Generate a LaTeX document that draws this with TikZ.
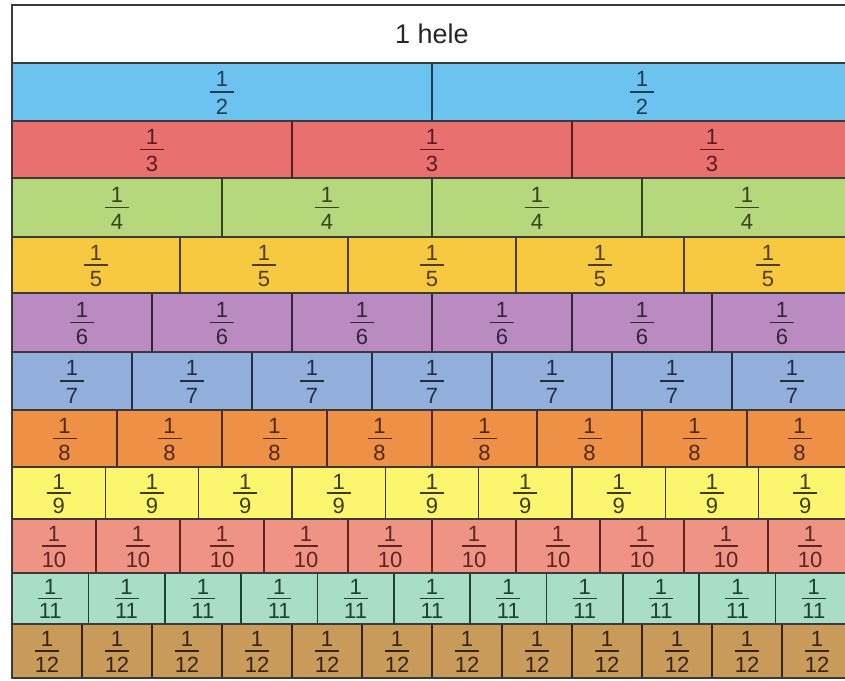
\documentclass[tikz,border=0pt]{standalone}
\usepackage{fontspec}
\setmainfont{Liberation Sans}
\definecolor{c2}{HTML}{6DC3EF}\definecolor{d2}{HTML}{1F3D52}
\definecolor{c3}{HTML}{E8706F}\definecolor{d3}{HTML}{5E1A1E}
\definecolor{c4}{HTML}{B6D77B}\definecolor{d4}{HTML}{34451A}
\definecolor{c5}{HTML}{F7C940}\definecolor{d5}{HTML}{533C12}
\definecolor{c6}{HTML}{BA8BC0}\definecolor{d6}{HTML}{35223D}
\definecolor{c7}{HTML}{92AEDB}\definecolor{d7}{HTML}{212E47}
\definecolor{c8}{HTML}{EE9045}\definecolor{d8}{HTML}{502912}
\definecolor{c9}{HTML}{FBF66E}\definecolor{d9}{HTML}{433912}
\definecolor{c10}{HTML}{EF9484}\definecolor{d10}{HTML}{60251E}
\definecolor{c11}{HTML}{AADDC6}\definecolor{d11}{HTML}{1B422F}
\definecolor{c12}{HTML}{C89B5A}\definecolor{d12}{HTML}{36240D}
\definecolor{rule}{HTML}{3A3A3A}
\begin{document}
\begin{tikzpicture}[x=1pt,y=-1pt,
  digit/.style={inner sep=0pt,font=\fontsize{22}{22}\selectfont},
  headtext/.style={inner sep=0pt,font=\fontsize{27}{27}\selectfont,text=black!85},
  hrule/.style={draw=rule,line width=2pt},
  fracbar/.style={line width=1.8pt}]
\useasboundingbox (0,0) rectangle (845,680);
\clip (0,0) rectangle (845,680);
% header
\node[headtext] (head) at (432,34) {1 hele};
\foreach \n/\t/\b in {2/63/121,3/121/178,4/178/237,5/237/293,6/293/352,7/352/410,8/410/467,9/467/519,10/519/573,11/573/624,12/624/678}{
  \fill[c\n] (12,\t) rectangle (852,\b);
  \pgfmathsetmacro{\h}{\b-\t}
  \foreach \k in {1,...,\n}{
    \pgfmathsetmacro{\xa}{12+840*(\k-1)/\n}
    \pgfmathsetmacro{\cx}{12+840*(\k-0.5)/\n}
    \ifnum\k>1
      \draw[d\n,line width=1.6pt] (\xa,\t) -- (\xa,\b);
    \fi
    \node[digit,text=d\n] (num-\n-\k) at (\cx,\t+0.28*\h) {1};
    \node[digit,text=d\n] (den-\n-\k) at (\cx,\b-0.25*\h) {\n};
    \draw[d\n,fracbar] (\cx-12,\t+0.5*\h) -- (\cx+12,\t+0.5*\h);
  }
}
\foreach \y in {5,63,121,178,237,293,352,410,467,519,573,624,678}{
  \draw[hrule] (11,\y) -- (853,\y);
}
\draw[hrule] (12,4) -- (12,679);
\draw[hrule] (851,4) -- (851,679);
\end{tikzpicture}
\end{document}
